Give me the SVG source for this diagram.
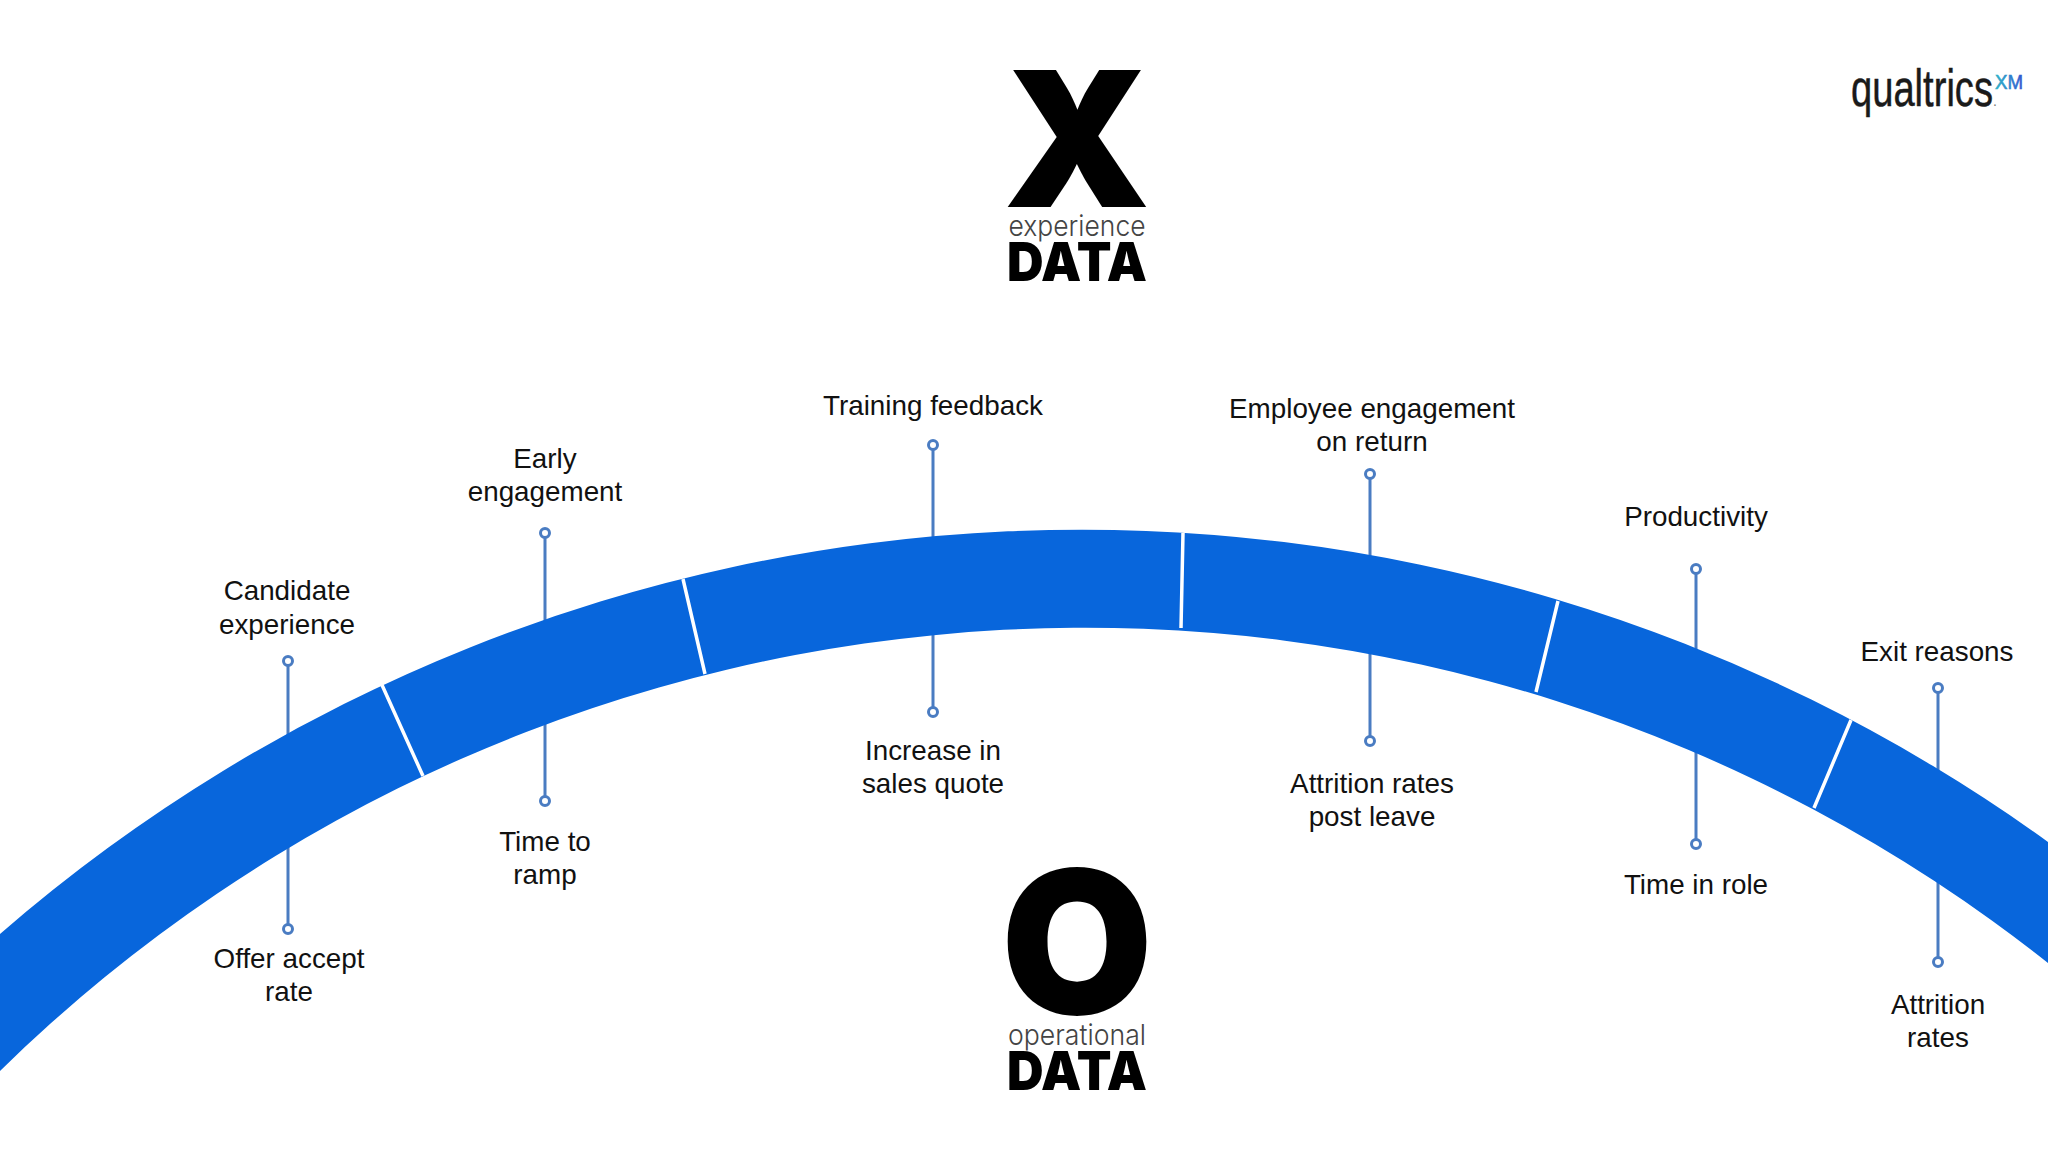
<svg xmlns="http://www.w3.org/2000/svg" width="2048" height="1152" viewBox="0 0 2048 1152">
<style>
.lbl{font-family:"Liberation Sans",Arial,sans-serif;font-size:27.8px;fill:#111;text-anchor:middle}
.stem{stroke:#4a7cc2;stroke-width:3;fill:none}
.dot{stroke:#4a7cc2;stroke-width:3;fill:#fff}
.sep{stroke:#fff;stroke-width:3.5;fill:none}
.big{font-family:Inter,"Liberation Sans",sans-serif;font-weight:900;fill:#000;text-anchor:middle}
.thin{font-family:Inter,"Liberation Sans",sans-serif;font-weight:300;fill:#444;text-anchor:middle;font-size:29px}
</style>
<defs>
<linearGradient id="xm" x1="0" y1="0" x2="1" y2="0"><stop offset="0" stop-color="#2fb5c8"/><stop offset="1" stop-color="#2f55d0"/></linearGradient>
</defs>
<rect width="2048" height="1152" fill="#fff"/>
<g id="connectors">
<path class="stem" d="M288 661V929M545 533V801M933 445V712M1370 474V741M1696 569V844M1938 687V961"/>
</g>
<g id="band">
<path fill="#0866dc" d="M0 934A1650 1650 0 0 1 2048 842L2048 963A1550 1550 0 0 0 0 1071Z"/>
<path class="sep" d="M382 685L423 776M683 579L705 674M1183 533L1181 628M1558 601L1536 692M1851 720L1814 808"/>
</g>
<g id="node-x">
<text class="big" x="1077" y="207" font-size="188" textLength="147" lengthAdjust="spacingAndGlyphs">X</text>
<text class="thin" x="1077" y="236" textLength="137" lengthAdjust="spacingAndGlyphs">experience</text>
<text class="big" x="1077" y="281" font-size="54" textLength="140" lengthAdjust="spacingAndGlyphs">DATA</text>
</g>
<g id="node-o">
<text class="big" x="1077" y="1014" font-size="200" textLength="152" lengthAdjust="spacingAndGlyphs">O</text>
<text class="thin" x="1077" y="1045" textLength="138" lengthAdjust="spacingAndGlyphs">operational</text>
<text class="big" x="1077" y="1090" font-size="54" textLength="140" lengthAdjust="spacingAndGlyphs">DATA</text>
</g>
<g id="logo">
<text x="1851" y="106" font-family="'Liberation Sans Narrow','Liberation Sans',sans-serif" font-size="52" fill="#1a1a1a" stroke="#1a1a1a" stroke-width="0.5" textLength="142" lengthAdjust="spacingAndGlyphs">qualtrics</text>
<text x="1993" y="106" font-family="'Liberation Sans',sans-serif" font-size="14" fill="#777">.</text>
<text x="1995" y="89" font-family="'Liberation Sans',sans-serif" font-size="21" fill="url(#xm)" stroke="url(#xm)" stroke-width="0.6" textLength="28" lengthAdjust="spacingAndGlyphs">XM</text>
</g>
<g id="node-candidate"><circle class="dot" cx="288" cy="661" r="4.5"/><text class="lbl" x="287" y="600">Candidate</text><text class="lbl" x="287" y="634">experience</text></g>
<g id="node-offer"><circle class="dot" cx="288" cy="929" r="4.5"/><text class="lbl" x="289" y="968">Offer accept</text><text class="lbl" x="289" y="1001">rate</text></g>
<g id="node-early"><circle class="dot" cx="545" cy="533" r="4.5"/><text class="lbl" x="545" y="468">Early</text><text class="lbl" x="545" y="501">engagement</text></g>
<g id="node-ramp"><circle class="dot" cx="545" cy="801" r="4.5"/><text class="lbl" x="545" y="851">Time to</text><text class="lbl" x="545" y="884">ramp</text></g>
<g id="node-training"><circle class="dot" cx="933" cy="445" r="4.5"/><text class="lbl" x="933" y="415">Training feedback</text></g>
<g id="node-sales"><circle class="dot" cx="933" cy="712" r="4.5"/><text class="lbl" x="933" y="760">Increase in</text><text class="lbl" x="933" y="793">sales quote</text></g>
<g id="node-return"><circle class="dot" cx="1370" cy="474" r="4.5"/><text class="lbl" x="1372" y="418">Employee engagement</text><text class="lbl" x="1372" y="451">on return</text></g>
<g id="node-attrition-post"><circle class="dot" cx="1370" cy="741" r="4.5"/><text class="lbl" x="1372" y="793">Attrition rates</text><text class="lbl" x="1372" y="826">post leave</text></g>
<g id="node-productivity"><circle class="dot" cx="1696" cy="569" r="4.5"/><text class="lbl" x="1696" y="526">Productivity</text></g>
<g id="node-role"><circle class="dot" cx="1696" cy="844" r="4.5"/><text class="lbl" x="1696" y="894">Time in role</text></g>
<g id="node-exit"><circle class="dot" cx="1938" cy="688" r="4.5"/><text class="lbl" x="1937" y="661">Exit reasons</text></g>
<g id="node-attrition"><circle class="dot" cx="1938" cy="962" r="4.5"/><text class="lbl" x="1938" y="1014">Attrition</text><text class="lbl" x="1938" y="1047">rates</text></g>
</svg>
